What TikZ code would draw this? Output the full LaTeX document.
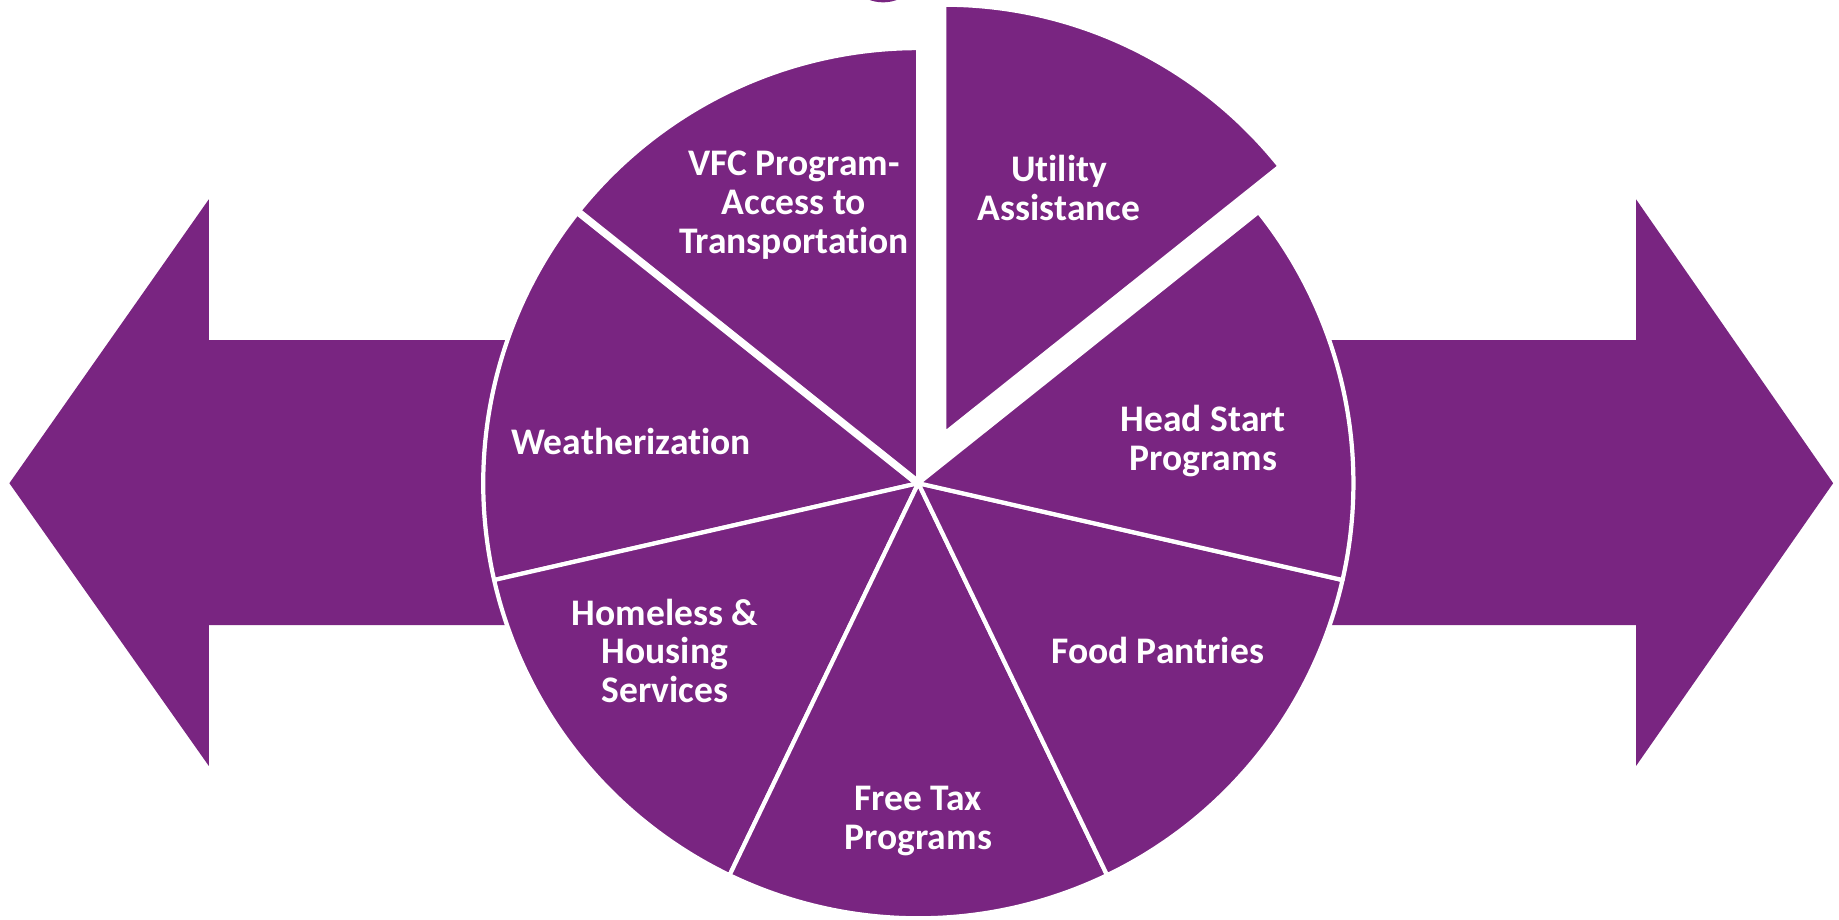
\documentclass[tikz,border=0pt]{standalone}
\usepackage{fontspec}
\setmainfont[Ligatures=NoCommon]{Carlito}
\definecolor{pur}{HTML}{792581}
\begin{document}
\begin{tikzpicture}[x=0.5pt,y=0.5pt,
  slice/.style={fill=pur,draw=white,line width=1.8pt,line join=round},
  lbl/.style={text=white,font=\bfseries\fontsize{16}{16.5}\selectfont,align=center,inner sep=0pt}]
\useasboundingbox (0,0) rectangle (1568,784);
% arrows
\fill[pur] (8,372) -- (178,614) -- (178,494) -- (450,494) -- (450,251) -- (178,251) -- (178,131) -- cycle;
\fill[pur] (1563,372) -- (1395,614) -- (1395,494) -- (1120,494) -- (1120,251) -- (1395,251) -- (1395,131) -- cycle;
% small dot at top
\fill[pur] (753,816) circle (34);
% pie
\coordinate (C) at (783,372);
\foreach \i in {1,...,6} {
  \pgfmathsetmacro\a{90+(\i-1)*360/7}
  \pgfmathsetmacro\b{90+\i*360/7}
  \draw[slice] (C) -- ++(\a:371) arc[start angle=\a, end angle=\b, radius=371] -- cycle;
}
\draw[white,line width=3.2pt] (C) -- ++(141.43:372);
% exploded slice
\coordinate (U) at (805,414);
\draw[slice] (U) -- ++(38.57:366) arc[start angle=38.57, end angle=90, radius=366] -- cycle;
% labels
\node[lbl] (vfc) at (677,609) {VFC Program-\\Access to\\Transportation};
\node[lbl] (util) at (903,624) {Utility\\Assistance};
\node[lbl] (head) at (1026,408) {Head Start\\Programs};
\node[lbl] (food) at (987,229) {Food Pantries};
\node[lbl] (tax) at (783,84) {Free Tax\\Programs};
\node[lbl] (home) at (567,229) {Homeless \&\\Housing\\Services};
\node[lbl] (weat) at (538,408) {Weatherization};
\end{tikzpicture}
\end{document}
